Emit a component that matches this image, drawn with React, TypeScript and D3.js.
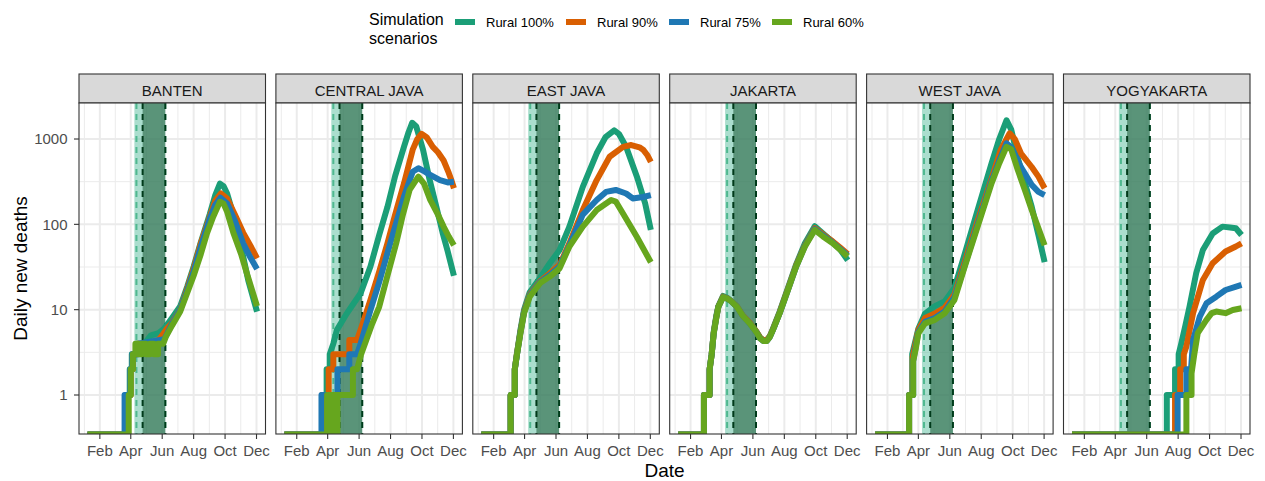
import React from "react";
import * as d3 from "d3";

type Pt = [string, number];

const PANELS = ["BANTEN", "CENTRAL JAVA", "EAST JAVA", "JAKARTA", "WEST JAVA", "YOGYAKARTA"];
const SCENARIOS = ["Rural 100%", "Rural 90%", "Rural 75%", "Rural 60%"];
const COLORS = ["#1b9e77", "#d95f02", "#1f78b4", "#66a61e"];
const Y_TICKS = [1, 10, 100, 1000];
const X_TICKS = ["02-01", "04-01", "06-01", "08-01", "10-01", "12-01"];
const X_TICK_LABELS = ["Feb", "Apr", "Jun", "Aug", "Oct", "Dec"];
const DATA_START = "01-08";
const DATA_END = "12-02";
const LIGHT_BAND = ["04-08", "06-07"];
const LIGHT_DASH = ["04-12", "06-07"];
const DARK_BAND = ["04-24", "06-07"];

// ---- BANTEN ----
const bantenR100: Pt[] = [["01-08",0],["03-22",0],["03-22",1],["03-30",1],["03-30",2],["04-03",2],["04-03",3],["04-12",3],["04-12",4],["04-28",4],["05-10",5],["05-25",5.3],["06-05",6],["06-20",8],["07-06",11],["07-20",19],["08-01",32],["08-15",62],["09-01",130],["09-12",220],["09-21",300],["09-28",280],["10-05",230],["10-12",165],["10-20",105],["11-01",55],["11-15",22],["12-02",9.5]];
const bantenR90: Pt[] = [["01-08",0],["03-24",0],["03-24",1],["04-01",1],["04-01",2],["04-05",2],["04-05",3],["04-14",3],["04-14",4],["05-20",4],["06-01",5],["06-10",6],["06-20",7],["07-06",10],["07-20",18],["08-01",30],["08-15",60],["09-01",120],["09-12",190],["09-23",230],["10-05",200],["10-20",130],["11-05",80],["11-20",55],["12-02",40]];
const bantenR75: Pt[] = [["01-08",0],["03-20",0],["03-20",1],["03-31",1],["03-31",2],["04-04",2],["04-04",3],["04-16",3],["04-16",4],["06-05",4.5],["06-20",6.8],["07-06",10],["07-20",17],["08-01",28],["08-15",55],["09-01",115],["09-12",170],["09-22",205],["10-05",175],["10-20",110],["11-05",60],["11-20",40],["12-02",30]];
const bantenR60: Pt[] = [["01-08",0],["03-28",0],["03-28",1],["04-01",1],["04-01",2],["04-05",2],["04-05",3],["04-10",3],["04-10",4],["04-16",4],["04-16",3],["04-22",3],["04-22",4],["04-30",4],["04-30",3],["05-08",3],["05-08",4],["05-16",4],["05-16",3],["05-24",3],["05-24",4],["06-03",4],["06-08",4.8],["06-20",6.5],["07-06",9.5],["07-20",16],["08-01",25],["08-15",45],["08-27",79],["09-08",123],["09-21",184],["09-28",175],["10-05",140],["10-17",80],["11-01",45],["11-12",27],["12-02",11]];

// ---- CENTRAL JAVA ----
const centralR100: Pt[] = [["01-08",0],["03-22",0],["03-22",1],["03-30",1],["03-30",2],["04-05",2],["04-05",3],["04-12",4],["04-19",5.8],["05-08",9],["05-20",11.5],["06-04",15.6],["06-23",32],["07-10",75],["07-26",160],["08-10",370],["08-27",810],["09-05",1200],["09-12",1550],["09-20",1400],["10-03",750],["10-15",350],["10-29",160],["11-10",80],["11-20",48],["12-02",25]];
const centralR90: Pt[] = [["01-08",0],["03-21",0],["03-21",1],["04-03",1],["04-03",2],["04-12",2],["04-12",3],["05-13",3],["05-13",4.4],["05-28",4.4],["06-04",5.8],["06-23",13],["07-10",28],["07-26",60],["08-10",130],["08-27",300],["09-13",750],["09-22",1000],["09-30",1150],["10-10",1050],["10-22",810],["11-01",700],["11-12",560],["11-22",400],["11-27",330],["12-02",265]];
const centralR75: Pt[] = [["01-08",0],["03-20",0],["03-20",1],["04-20",1],["04-20",2],["05-13",2],["05-13",3],["05-28",3],["06-04",4],["06-23",9.9],["07-10",21],["07-26",46],["08-10",95],["08-27",210],["09-13",413],["09-24",454],["10-05",420],["10-17",380],["11-05",330],["11-20",310],["12-02",316]];
const centralR60: Pt[] = [["01-08",0],["03-31",0],["03-31",1],["04-10",1],["04-10",0],["04-13",0],["04-13",1],["04-17",1],["04-17",0],["04-20",0],["04-20",1],["05-20",1],["05-20",2],["05-28",2],["06-05",3],["06-15",4.4],["06-25",6.5],["07-10",10.8],["07-26",25],["08-12",60],["08-25",130],["09-07",253],["09-24",362],["10-05",300],["10-17",193],["11-01",130],["11-12",94],["11-22",72],["12-02",57]];

// ---- EAST JAVA ----
const eastR100: Pt[] = [["01-08",0],["03-05",0],["03-05",1],["03-13",1],["03-13",2],["03-17",3],["03-24",5.8],["03-31",10],["04-11",16],["05-01",23.5],["05-20",35],["06-08",50],["06-27",94],["07-23",275],["08-19",680],["09-05",1050],["09-22",1260],["10-01",1150],["10-15",810],["11-05",362],["11-21",176],["12-02",86]];
const eastR90: Pt[] = [["01-08",0],["03-05",0],["03-05",1],["03-13",1],["03-13",2],["03-17",3],["03-24",5.5],["03-31",9.5],["04-11",15],["05-01",21.5],["05-20",26.7],["06-08",33.5],["06-27",60],["07-23",147],["08-19",330],["09-13",620],["10-09",810],["10-25",850],["11-10",800],["11-17",750],["11-25",650],["12-02",540]];
const eastR75: Pt[] = [["01-08",0],["03-05",0],["03-05",1],["03-13",1],["03-13",2],["03-17",2.9],["03-24",5.4],["03-31",9.3],["04-11",14.6],["05-01",21],["05-20",25.5],["06-08",32],["06-27",57],["07-23",130],["08-19",193],["09-06",240],["09-25",253],["10-15",230],["10-28",201],["11-17",209],["12-02",220]];
const eastR60: Pt[] = [["01-08",0],["03-05",0],["03-05",1],["03-13",1],["03-13",2],["03-17",2.9],["03-24",5.3],["03-31",9.1],["04-11",14.2],["05-01",20.5],["05-20",24.4],["06-08",30.5],["06-27",55],["07-23",94],["08-19",147],["09-16",193],["09-25",185],["10-09",134],["11-05",71],["12-02",36]];

// ---- JAKARTA ----
const jakartaR100: Pt[] = [["01-08",0],["02-27",0],["02-27",1],["03-09",1],["03-09",2],["03-13",3],["03-17",5.5],["03-22",8.5],["03-26",11],["04-04",14.5],["04-12",13.8],["04-20",12.7],["05-01",11],["05-12",8.6],["05-26",7],["06-08",5.5],["06-15",4.7],["06-21",4.4],["06-28",4.4],["07-04",4.9],["07-10",6],["07-23",9.5],["08-08",18],["08-24",34],["09-10",60],["09-29",95],["10-15",78],["11-03",62],["11-18",50],["12-02",38]];
const jakartaR90: Pt[] = [["01-08",0],["02-27",0],["02-27",1],["03-09",1],["03-09",2],["03-13",3],["03-17",5.4],["03-22",8.2],["03-26",10.9],["04-04",14.2],["04-12",13.6],["04-20",12.6],["05-01",10.9],["05-12",8.6],["05-26",7],["06-08",5.5],["06-15",4.7],["06-21",4.4],["06-28",4.4],["07-04",4.9],["07-10",5.9],["07-23",9.3],["08-08",17.5],["08-24",33],["09-10",57],["09-29",90],["10-15",76],["11-03",63],["11-18",53],["12-02",45]];
const jakartaR75: Pt[] = [["01-08",0],["02-27",0],["02-27",1],["03-09",1],["03-09",2],["03-13",3],["03-17",5.3],["03-22",8.1],["03-26",10.8],["04-04",14],["04-12",13.5],["04-20",12.5],["05-01",10.8],["05-12",8.5],["05-26",6.9],["06-08",5.4],["06-15",4.6],["06-21",4.3],["06-28",4.3],["07-04",4.8],["07-10",5.8],["07-23",9.1],["08-08",17],["08-24",32],["09-10",56],["09-29",88],["10-15",74],["11-03",61],["11-18",51],["12-02",43]];
const jakartaR60: Pt[] = [["01-08",0],["02-27",0],["02-27",1],["03-09",1],["03-09",2],["03-13",3],["03-17",5.3],["03-22",8],["03-26",10.8],["04-04",14],["04-12",13.5],["04-20",12.5],["05-01",10.8],["05-12",8.5],["05-26",6.9],["06-08",5.4],["06-15",4.6],["06-21",4.3],["06-28",4.3],["07-04",4.8],["07-10",5.8],["07-23",9.1],["08-08",17],["08-24",32],["09-10",55],["09-29",86],["10-15",72],["11-03",60],["11-18",50],["12-02",42]];

// ---- WEST JAVA ----
const westR100: Pt[] = [["01-08",0],["03-14",0],["03-14",1],["03-20",1],["03-20",3],["04-01",6],["04-14",9],["05-03",11],["05-22",12.5],["06-10",18],["06-30",45],["07-25",147],["08-21",520],["09-05",1000],["09-19",1660],["09-28",1300],["10-11",600],["10-25",300],["11-07",160],["11-20",75],["12-02",36]];
const westR90: Pt[] = [["01-08",0],["03-14",0],["03-14",1],["03-21",1],["03-21",2.8],["04-01",5.8],["04-14",8],["05-03",9],["05-22",10.5],["06-10",15],["06-30",36],["07-25",110],["08-21",340],["09-08",750],["09-25",1166],["10-05",1000],["10-17",680],["11-07",470],["11-20",362],["12-02",265]];
const westR75: Pt[] = [["01-08",0],["03-14",0],["03-14",1],["03-22",1],["03-22",2.5],["04-01",5.5],["04-14",7.2],["05-03",8],["05-22",9.5],["06-10",14],["06-30",33],["07-25",100],["08-21",320],["09-05",560],["09-19",890],["09-28",800],["10-17",470],["11-07",290],["11-20",240],["12-02",220]];
const westR60: Pt[] = [["01-08",0],["03-14",0],["03-14",1],["03-22",1],["03-22",2.5],["03-27",3.5],["04-01",5.3],["04-14",6.9],["05-03",7.6],["05-22",9.1],["06-10",13],["06-30",32],["07-25",94],["08-21",302],["09-05",520],["09-19",810],["09-28",760],["10-11",432],["10-25",250],["11-07",147],["11-20",90],["12-02",57]];

// ---- YOGYAKARTA ----
const yogyaR100: Pt[] = [["01-08",0],["07-10",0],["07-10",1],["07-26",1],["07-26",2],["08-02",2],["08-02",3],["08-07",4],["08-15",6.5],["08-23",10.8],["09-05",26.7],["09-18",50],["10-07",78],["10-26",94],["11-10",92],["11-21",90],["12-02",75]];
const yogyaR90: Pt[] = [["01-08",0],["07-26",0],["07-26",1],["08-05",1],["08-05",2],["08-12",2],["08-12",3],["08-17",3.7],["08-30",9.1],["09-18",22.3],["10-07",35],["11-01",48],["11-21",55],["12-02",60]];
const yogyaR75: Pt[] = [["01-08",0],["07-31",0],["07-31",1],["08-17",1],["08-17",2],["08-26",2],["08-30",4.4],["09-12",8.3],["09-25",11.9],["10-14",14.2],["11-01",17],["11-20",18.5],["12-02",19.5]];
const yogyaR60: Pt[] = [["01-08",0],["08-17",0],["08-17",1],["08-27",1],["08-27",1.8],["09-01",2.9],["09-08",5.3],["09-25",7.6],["10-05",9.1],["10-14",9.5],["11-01",9.1],["11-15",9.9],["12-02",10.4]];

const SERIES: Pt[][][] = [
  [bantenR100, bantenR90, bantenR75, bantenR60],
  [centralR100, centralR90, centralR75, centralR60],
  [eastR100, eastR90, eastR75, eastR60],
  [jakartaR100, jakartaR90, jakartaR75, jakartaR60],
  [westR100, westR90, westR75, westR60],
  [yogyaR100, yogyaR90, yogyaR75, yogyaR60],
];

const parse = d3.timeParse("%Y-%m-%d");
const toDate = (s: string) => parse("2020-" + s) as Date;

// layout
const W = 1265, H = 481;
const P0 = 79, PSTEP = 196.9, PW = 186.5;
const STRIP_TOP = 74, STRIP_H = 29;
const PT = 103, PH = 331;
const FONT = "'Liberation Sans', Arial, Helvetica, sans-serif";

export default function App() {
  const d0 = toDate(DATA_START).getTime();
  const d1 = toDate(DATA_END).getTime();
  const span = d1 - d0;
  const x = d3.scaleTime().domain([new Date(d0 - 0.05 * span), new Date(d1 + 0.05 * span)]).range([0, PW]);
  const y = d3.scaleLog().domain([Math.pow(10, -0.457), Math.pow(10, 3.422)]).range([PH, 0]);

  const majorX = X_TICKS.map(toDate);
  const step = majorX[1].getTime() - majorX[0].getTime();
  const ext = [majorX[0].getTime() - step, ...majorX.map((d) => d.getTime())];
  const minorX = ext.slice(1).map((t, i) => new Date((t + ext[i]) / 2)).filter((d) => x(d) >= 0 && x(d) <= PW);
  const minorY = [-1, 0, 1, 2, 3].map((k) => Math.pow(10, k + 0.5)).filter((v) => y(v) >= 0 && y(v) <= PH);

  const line = d3
    .line<Pt>()
    .x((d) => x(toDate(d[0])))
    .y((d) => (d[1] > 0 ? y(d[1]) : PH + 0.5));

  const legendX = [455, 566, 669, 772];
  const xd = (s: string) => x(toDate(s));

  return (
    <svg width={W} height={H} style={{ position: "absolute", left: 0, top: 0, display: "block", background: "#fff" }} fontFamily={FONT}>
      <defs>
        <clipPath id="pclip">
          <rect x={0} y={0} width={PW} height={PH} />
        </clipPath>
      </defs>
      {/* legend */}
      <text x={369} y={25} fontSize={16} fill="#000">Simulation</text>
      <text x={369} y={43.5} fontSize={16} fill="#000">scenarios</text>
      {SCENARIOS.map((s, i) => (
        <g key={s}>
          <line x1={legendX[i]} x2={legendX[i] + 20} y1={22} y2={22} stroke={COLORS[i]} strokeWidth={6} />
          <text x={legendX[i] + 31} y={26.8} fontSize={13} fill="#000">{s}</text>
        </g>
      ))}
      {PANELS.map((name, pi) => {
        const L = P0 + pi * PSTEP;
        return (
          <g key={name}>
            {/* strip */}
            <rect x={L} y={STRIP_TOP} width={PW} height={STRIP_H} fill="#d9d9d9" stroke="#333333" strokeWidth={1.1} />
            <text x={L + PW / 2} y={96} fontSize={15} fill="#1a1a1a" textAnchor="middle">{name}</text>
            <g transform={`translate(${L},${PT})`}>
              <rect x={0} y={0} width={PW} height={PH} fill="#fff" />
              {minorY.map((v) => (
                <line key={"my" + v} x1={0} x2={PW} y1={y(v)} y2={y(v)} stroke="#ebebeb" strokeWidth={1} />
              ))}
              {minorX.map((d) => (
                <line key={"mx" + d.getTime()} x1={x(d)} x2={x(d)} y1={0} y2={PH} stroke="#ebebeb" strokeWidth={1} />
              ))}
              {Y_TICKS.map((v) => (
                <line key={"gy" + v} x1={0} x2={PW} y1={y(v)} y2={y(v)} stroke="#ebebeb" strokeWidth={2} />
              ))}
              {majorX.map((d) => (
                <line key={"gx" + d.getTime()} x1={x(d)} x2={x(d)} y1={0} y2={PH} stroke="#ebebeb" strokeWidth={2} />
              ))}
              {/* intervention periods */}
              <rect x={xd(LIGHT_BAND[0])} y={0} width={xd(LIGHT_BAND[1]) - xd(LIGHT_BAND[0])} height={PH} fill="#66c2a5" fillOpacity={0.55} />
              <rect x={xd(DARK_BAND[0])} y={0} width={xd(DARK_BAND[1]) - xd(DARK_BAND[0])} height={PH} fill="#246341" fillOpacity={0.6} />
              {LIGHT_DASH.map((s) => (
                <line key={"ld" + s} x1={xd(s)} x2={xd(s)} y1={0} y2={PH} stroke="#4fb88f" strokeWidth={2} strokeDasharray="6,5" />
              ))}
              {DARK_BAND.map((s) => (
                <line key={"dd" + s} x1={xd(s)} x2={xd(s)} y1={0} y2={PH} stroke="#003a1a" strokeWidth={2} strokeDasharray="6,5" />
              ))}
              <g clipPath="url(#pclip)">
                {SERIES[pi].map((ser, si) => (
                  <path key={si} d={line(ser) || ""} fill="none" stroke={COLORS[si]} strokeWidth={6} strokeLinejoin="round" strokeLinecap="butt" />
                ))}
              </g>
              <rect x={0} y={0} width={PW} height={PH} fill="none" stroke="#333333" strokeWidth={1.1} />
              {/* x ticks */}
              {majorX.map((d, i) => (
                <g key={"xt" + i}>
                  <line x1={x(d)} x2={x(d)} y1={PH} y2={PH + 5} stroke="#333333" strokeWidth={1.1} />
                  <text x={x(d)} y={PH + 22} fontSize={15} fill="#4d4d4d" textAnchor="middle">{X_TICK_LABELS[i]}</text>
                </g>
              ))}
              {pi === 0 &&
                Y_TICKS.map((v) => (
                  <g key={"yt" + v}>
                    <line x1={-5} x2={0} y1={y(v)} y2={y(v)} stroke="#333333" strokeWidth={1.1} />
                    <text x={-11.5} y={y(v)} dy="0.36em" fontSize={15} fill="#4d4d4d" textAnchor="end">{d3.format("d")(v)}</text>
                  </g>
                ))}
            </g>
          </g>
        );
      })}
      <text x={(P0 + P0 + 5 * PSTEP + PW) / 2} y={477} fontSize={19} fill="#000" textAnchor="middle">Date</text>
      <text transform={`translate(26.5,${PT + PH / 2}) rotate(-90)`} fontSize={19} fill="#000" textAnchor="middle">Daily new deaths</text>
    </svg>
  );
}
